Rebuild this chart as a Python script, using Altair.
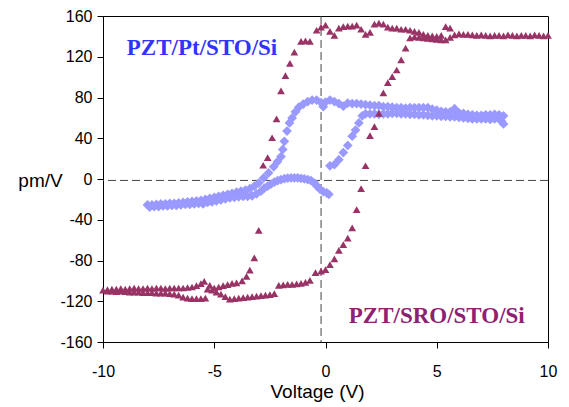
import altair as alt
import pandas as pd

# ---------------- PZT/SRO/STO/Si (triangles) ----------------
sro_top_desc = [(10.0, 141), (9.8, 140.5), (9.6, 141), (9.4, 141.5), (9.2, 140.5), (9.0, 141),
                (8.8, 141), (8.6, 140.5), (8.4, 141), (8.2, 141.5), (8.0, 140.5), (7.8, 141),
                (7.6, 141), (7.4, 140.5), (7.2, 141), (7.0, 141.5), (6.8, 141), (6.6, 141.5),
                (6.4, 142), (6.2, 142), (6.0, 142.5), (5.8, 141.5), (5.6, 148), (5.4, 149.5),
                (5.2, 141), (5.0, 140), (4.8, 140.5), (4.6, 141), (4.4, 142), (4.2, 144),
                (4.0, 145), (3.8, 146), (3.6, 147), (3.4, 147), (3.2, 148), (3.0, 148),
                (2.8, 149), (2.6, 152), (2.4, 153), (2.2, 152), (2.0, 144), (1.8, 142),
                (1.6, 147), (1.4, 151), (1.2, 150), (1.0, 150), (0.8, 149.5), (0.6, 148),
                (0.4, 141), (0.2, 145), (0.0, 151), (-0.2, 149), (-0.4, 146)]
sro_switch_desc = [(-0.7, 135), (-0.9, 135.5), (-1.1, 135), (-1.4, 124.5), (-1.6, 113.5),
                   (-1.8, 101.5), (-2.0, 86.5), (-2.2, 59), (-2.4, 40.5), (-2.6, 21),
                   (-2.8, 13.5), (-3.0, -50.5), (-3.2, -77.5), (-3.4, -89.5), (-3.55, -95.5),
                   (-3.75, -100), (-4.0, -102)]
sro_bottom_desc = [(-4.2, -102.5), (-4.4, -103.6), (-4.6, -104.6), (-4.8, -106), (-5.0, -107),
                   (-5.2, -104.5), (-5.45, -100.4), (-5.6, -102.6), (-5.8, -104.6), (-6.0, -106),
                   (-6.2, -106.5), (-6.4, -107), (-6.6, -107), (-6.8, -107), (-7.0, -107),
                   (-7.2, -107.5), (-7.4, -107), (-7.6, -107), (-7.8, -107.5), (-8.0, -107),
                   (-8.2, -107.5), (-8.4, -107.5), (-8.6, -107), (-8.8, -107.5), (-9.0, -108),
                   (-9.2, -107.5), (-9.4, -108), (-9.6, -108), (-9.8, -108.5), (-10.0, -109)]
sro_bottom_asc = [(-9.8, -110), (-9.6, -110), (-9.4, -110.5), (-9.2, -110), (-9.0, -110.5),
                  (-8.8, -111), (-8.6, -111), (-8.4, -111), (-8.2, -111.5), (-8.0, -111.5),
                  (-7.8, -111.5), (-7.6, -112), (-7.4, -112), (-7.2, -112), (-7.0, -112.5),
                  (-6.8, -113), (-6.6, -114), (-6.4, -116), (-6.2, -117), (-6.0, -117.5),
                  (-5.8, -117.5), (-5.6, -117.5), (-5.4, -117), (-5.3, -108), (-5.1, -109),
                  (-4.9, -111), (-4.7, -113), (-4.5, -115.5), (-4.3, -118), (-4.1, -117.5),
                  (-3.9, -117), (-3.7, -116.5), (-3.5, -116), (-3.3, -115.5), (-3.1, -115),
                  (-2.9, -114.5), (-2.7, -114), (-2.5, -113.5), (-2.3, -112.5), (-2.1, -104.5),
                  (-1.9, -104), (-1.7, -103.5), (-1.5, -103.5), (-1.3, -103), (-1.1, -102.5),
                  (-0.9, -101.5), (-0.7, -99.5), (-0.45, -92), (-0.2, -90.5), (0.0, -89)]
sro_switch_asc = [(0.2, -84), (0.4, -78.5), (0.6, -70), (0.8, -64.5), (1.0, -58), (1.2, -48),
                  (1.4, -30), (1.6, -9.5), (1.8, 13), (2.0, 42.5), (2.2, 51.5), (2.4, 64.5),
                  (2.6, 84.5), (2.8, 94.5), (3.0, 100.5), (3.2, 107), (3.4, 117), (3.6, 128.5),
                  (3.8, 138.5)]
sro_top_asc = [(4.0, 139.5), (4.2, 139), (4.4, 138.5), (4.6, 138), (4.8, 137.5), (5.0, 137),
               (5.2, 136.5), (5.4, 136.5), (5.6, 139)]

# ---------------- PZT/Pt/STO/Si (diamonds) ----------------
pt_rise_asc = [(0.2, 13), (0.4, 14), (0.6, 19), (0.8, 26), (1.0, 33), (1.2, 42), (1.35, 48),
               (1.5, 55), (1.65, 62), (1.8, 64), (2.0, 64), (2.2, 64), (2.4, 63.5)]
pt_top_asc = [(2.6, 64), (2.8, 64), (3.0, 64.5), (3.2, 64.5), (3.4, 64), (3.6, 64), (3.8, 63.5),
              (4.0, 63.5), (4.2, 63), (4.4, 63), (4.6, 62.5), (4.8, 62), (5.0, 62), (5.2, 61.5),
              (5.4, 61.5), (5.6, 61), (5.8, 61), (6.0, 60.5), (6.2, 60), (6.4, 59.5), (6.6, 59),
              (6.8, 59), (7.0, 59), (7.2, 59), (7.4, 58.5), (7.6, 59), (7.8, 59), (7.9, 57),
              (8.0, 54)]
pt_top_desc = [(8.0, 62), (7.8, 63), (7.6, 63.5), (7.4, 63), (7.2, 63), (7.0, 62.5), (6.8, 62.5),
               (6.6, 63), (6.4, 63.5), (6.2, 64.5), (6.0, 65), (5.8, 69), (5.6, 66), (5.4, 66),
               (5.2, 66.5), (5.0, 67.5), (4.8, 68.5), (4.6, 70), (4.4, 70), (4.2, 70), (4.0, 70),
               (3.8, 70), (3.6, 69.5), (3.4, 70), (3.2, 70), (3.0, 70.5), (2.8, 71), (2.6, 71),
               (2.4, 72), (2.2, 72), (2.0, 72.5), (1.8, 73), (1.6, 73.5), (1.4, 74), (1.2, 74),
               (1.0, 74.5), (0.8, 71.5), (0.6, 74), (0.4, 76), (0.2, 77.5), (0.0, 75.5),
               (-0.1, 71), (-0.2, 75), (-0.4, 77.5), (-0.6, 77.5), (-0.8, 76), (-1.0, 73.5),
               (-1.2, 70.5)]
pt_switch_desc = [(-1.35, 66), (-1.5, 60), (-1.62, 55), (-1.73, 47), (-1.85, 37), (-1.92, 29),
                  (-2.0, 22), (-2.16, 17), (-2.33, 12), (-2.56, 6), (-2.78, 1), (-3.0, -4),
                  (-3.2, -7)]
pt_bottom_desc = [(-3.4, -9.5), (-3.6, -11), (-3.8, -12), (-4.0, -13), (-4.2, -14), (-4.4, -15),
                  (-4.6, -16), (-4.8, -17), (-5.0, -18), (-5.2, -19), (-5.4, -20), (-5.6, -21),
                  (-5.8, -21.5), (-6.0, -22), (-6.2, -22.5), (-6.4, -23), (-6.6, -23.5),
                  (-6.8, -24), (-7.0, -24), (-7.2, -24.5), (-7.4, -24.5), (-7.6, -25),
                  (-7.8, -25.5), (-8.0, -25.5)]
pt_bottom_asc = [(-7.9, -27.5), (-7.7, -27), (-7.5, -27), (-7.3, -26.5), (-7.1, -26.5),
                 (-6.9, -26), (-6.7, -26), (-6.5, -25.5), (-6.3, -25), (-6.1, -25),
                 (-5.9, -24.5), (-5.7, -24), (-5.5, -24.5), (-5.3, -23), (-5.1, -22.5),
                 (-4.9, -21.5), (-4.7, -20.5), (-4.5, -19.5), (-4.3, -18.5), (-4.1, -18),
                 (-3.9, -17.5), (-3.7, -17), (-3.5, -17), (-3.3, -16.5), (-3.1, -14.5)]
pt_hump = [(-2.9, -12), (-2.75, -9), (-2.6, -7), (-2.45, -5), (-2.3, -3), (-2.15, -1.5),
           (-2.0, -0.5), (-1.85, 0.3), (-1.7, 0.8), (-1.55, 1), (-1.4, 1), (-1.25, 1),
           (-1.1, 0.6), (-0.95, 0.2), (-0.8, -0.5), (-0.65, -1.5), (-0.5, -4), (-0.38, -7),
           (-0.25, -10), (-0.1, -12.5), (0.05, -13.5), (0.15, -15)]

# Reference (dashed) lines
zero_x = [-0.2]
zero_y = [-1.4]

# Annotation labels
label_text = ["PZT/Pt/STO/Si", "PZT/SRO/STO/Si"]
label_x = [-5.55, 5.0]
label_y = [129, -134]
label_color = ["#3333FF", "#8E2170"]

x_ticks = [-10, -5, 0, 5, 10]
y_ticks = [-160, -120, -80, -40, 0, 40, 80, 120, 160]


def to_df(*segments):
    rows = [p for seg in segments for p in seg]
    return pd.DataFrame(rows, columns=["x", "y"])


sro_df = to_df(sro_top_desc, sro_switch_desc, sro_bottom_desc, sro_bottom_asc,
               sro_switch_asc, sro_top_asc)
pt_df = to_df(pt_rise_asc, pt_top_asc, pt_top_desc, pt_switch_desc, pt_bottom_desc,
              pt_bottom_asc, pt_hump)

xscale = alt.Scale(domain=[-10, 10], nice=False, zero=False)
yscale = alt.Scale(domain=[-160, 160], nice=False, zero=False)

plain_label = "'' + datum.value"

xaxis = alt.Axis(values=x_ticks, title="Voltage (V)", grid=False, tickSize=6,
                 labelExpr=plain_label,
                 labelFont="Liberation Sans", labelFontSize=16, labelPadding=15,
                 titleFont="Liberation Sans", titleFontSize=19, titleFontWeight="normal",
                 titleX=214, titleY=49, titleAlign="center", titleBaseline="middle",
                 domainColor="black", tickColor="black", labelColor="black",
                 titleColor="black", labelFlush=False)
yaxis = alt.Axis(values=y_ticks, title="pm/V", grid=False, tickSize=6,
                 labelExpr=plain_label,
                 labelFont="Liberation Sans", labelFontSize=16, labelPadding=5,
                 titleFont="Liberation Sans", titleFontSize=19, titleFontWeight="normal",
                 titleAngle=0, titleX=-63, titleY=164, titleAlign="center",
                 titleBaseline="middle", domainColor="black", tickColor="black",
                 labelColor="black", titleColor="black", labelFlush=False)

X = alt.X("x:Q", scale=xscale, axis=xaxis)
Y = alt.Y("y:Q", scale=yscale, axis=yaxis)

vline = alt.Chart(pd.DataFrame({"x": zero_x})).mark_rule(
    color="#444444", strokeDash=[8, 4], strokeWidth=1).encode(x=X)
hline = alt.Chart(pd.DataFrame({"y": zero_y})).mark_rule(
    color="#444444", strokeDash=[8, 4], strokeWidth=1).encode(y=Y)

pt_points = alt.Chart(pt_df).mark_point(
    shape="diamond", filled=True, size=95, opacity=1, color="#9999FF").encode(x=X, y=Y)
sro_points = alt.Chart(sro_df).mark_point(
    shape="triangle-up", filled=True, size=60, opacity=1, color="#993366").encode(x=X, y=Y)

labels_df = pd.DataFrame({"x": label_x, "y": label_y, "text": label_text, "c": label_color})
labels = alt.Chart(labels_df).mark_text(
    font="Liberation Serif", fontWeight="bold", fontSize=23, align="center",
    baseline="middle").encode(x=X, y=Y, text="text:N",
                              color=alt.Color("c:N", scale=None))

chart = alt.layer(vline, hline, pt_points, sro_points, labels).properties(
    width=445, height=326,
    padding={"left": 95, "top": 8, "right": 12, "bottom": 62},
    autosize=alt.AutoSizeParams(type="none"),
    background="white",
).configure_view(stroke="black", strokeWidth=1)

chart.save("out.html", embed_options={"renderer": "svg", "actions": False})
